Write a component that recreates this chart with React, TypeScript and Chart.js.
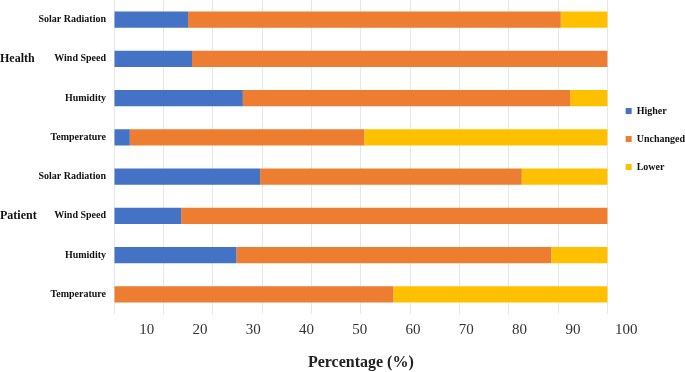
import React, { useEffect, useRef } from 'react';
import { Chart, registerables } from 'chart.js';

Chart.register(...registerables);

// ---- data ----
const categories = [
  'Solar Radiation',
  'Wind Speed',
  'Humidity',
  'Temperature',
  'Solar Radiation',
  'Wind Speed',
  'Humidity',
  'Temperature',
];
const groupLabels = ['', 'Health', '', '', '', 'Patient', '', ''];
const seriesNames = ['Higher', 'Unchanged', 'Lower'];
const higher = [15.0, 15.8, 26.1, 3.2, 29.6, 13.6, 24.8, 0];
const unchanged = [75.5, 84.2, 66.3, 47.5, 53.0, 86.4, 63.8, 56.6];
const lower = [9.5, 0, 7.6, 49.3, 17.4, 0, 11.4, 43.4];
const tickValues = [10, 20, 30, 40, 50, 60, 70, 80, 90, 100];

const serif = "'Liberation Serif', 'Times New Roman', serif";
const colors = ['#4472C4', '#ED7D31', '#FFC000'];

export default function App() {
  const canvasRef = useRef<HTMLCanvasElement | null>(null);

  useEffect(() => {
    document.body.style.margin = '0';
    const canvas = canvasRef.current;
    if (!canvas) return;
    const series = [higher, unchanged, lower];
    const noPad = (s: any) => {
      s.paddingTop = 0;
      s.paddingBottom = 0;
      s.paddingLeft = 0;
      s.paddingRight = 0;
    };
    const chart = new Chart(canvas, {
      type: 'bar',
      data: {
        labels: categories,
        datasets: series.map((d, i) => ({
          label: seriesNames[i],
          data: d,
          backgroundColor: colors[i],
          borderWidth: 0,
          xAxisID: 'x',
          yAxisID: 'y',
          barPercentage: 0.42,
          categoryPercentage: 1,
        })),
      },
      options: {
        animation: false,
        responsive: false,
        indexAxis: 'y',
        layout: { autoPadding: false, padding: { top: -3, right: -10, bottom: 0, left: 0 } },
        plugins: {
          legend: {
            position: 'right',
            align: 'start',
            title: {
              display: true,
              text: ' ',
              font: { size: 10 },
              padding: { top: 79, bottom: 0 },
            },
            labels: {
              boxWidth: 6,
              boxHeight: 6,
              padding: 18,
              color: '#111',
              font: { family: serif, size: 10, weight: 'bold' },
            },
          },
          tooltip: { enabled: false },
        },
        scales: {
          x: {
            type: 'linear',
            stacked: true,
            min: 0,
            max: 100,
            position: 'bottom',
            weight: 0,
            grid: { color: '#e8e8e8', drawTicks: false },
            border: { display: false },
            ticks: { display: false, stepSize: 10 },
            afterFit: (s: any) => {
              s.height = 0;
              noPad(s);
            },
          },
          x2: {
            type: 'linear',
            position: 'bottom',
            weight: 1,
            min: 7.33,
            max: 100,
            grid: { display: false, drawTicks: false },
            border: { display: false },
            afterBuildTicks: (s: any) => {
              s.ticks = tickValues.map((v) => ({ value: v }));
            },
            ticks: {
              labelOffset: 18.5,
              padding: 7,
              autoSkip: false,
              maxRotation: 0,
              color: '#333',
              font: { family: serif, size: 15 },
            },
            title: {
              display: true,
              text: 'Percentage (%)',
              color: '#222',
              font: { family: serif, size: 16, weight: 'bold' },
              padding: { top: 14, bottom: 0 },
            },
            afterFit: (s: any) => {
              s.height = 58;
              noPad(s);
            },
          },
          y: {
            type: 'category',
            stacked: true,
            position: 'left',
            weight: 0,
            grid: { display: false, drawTicks: false },
            border: { display: false },
            ticks: {
              padding: 8,
              autoSkip: false,
              color: '#111',
              font: { family: serif, size: 10, weight: 'bold' },
            },
            afterFit: (s: any) => {
              s.width = 76;
              noPad(s);
            },
          },
          y2: {
            type: 'category',
            labels: groupLabels,
            position: 'left',
            weight: 1,
            offset: true,
            grid: { display: false, drawTicks: false },
            border: { display: false },
            ticks: {
              crossAlign: 'far',
              padding: 0,
              autoSkip: false,
              color: '#111',
              font: { family: serif, size: 12, weight: 'bold' },
            },
            afterFit: (s: any) => {
              s.width = 38;
              noPad(s);
            },
          },
        },
      } as any,
    });
    return () => chart.destroy();
  }, []);

  return (
    <div style={{ width: 685, height: 372 }}>
      <canvas ref={canvasRef} width={685} height={372} style={{ display: 'block' }} />
    </div>
  );
}
